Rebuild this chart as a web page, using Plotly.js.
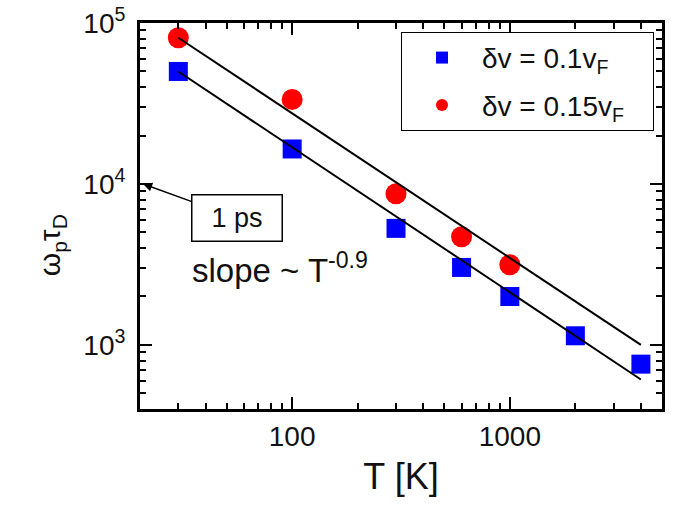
<!DOCTYPE html>
<html>
<head>
<meta charset="utf-8">
<script src="https://cdn.plot.ly/plotly-3.0.1.min.js"></script>
<style>
  html, body { margin: 0; padding: 0; background: #fff; }
  #plot { width: 697px; height: 514px; }
</style>
</head>
<body>
<div id="plot"></div>
<script>
// temperatures (K)
var tempBlue = [30, 100, 300, 600, 1000, 2000, 4000];
var tempRed = [30, 100, 300, 600, 1000];
// omega_p * tau_D
var wtBlue = [50000, 16500, 5300, 3030, 2000, 1140, 760];
var wtRed = [81000, 33500, 8700, 4700, 3150];
// the two T^-0.9 guide lines
var fitT = [30, 4000];
var fitUpper = [81000, 1000];
var fitLower = [50000, 610];

var nameBlue = 'δv = 0.1v<sub>F</sub>&nbsp;&nbsp;&nbsp;&nbsp;&nbsp;';
var nameRed = 'δv = 0.15v<sub>F</sub>&nbsp;&nbsp;&nbsp;';

var xMajor = [100, 1000];
var xMajorText = ['100', '1000'];
var xMinor = [30, 40, 50, 60, 70, 80, 90, 200, 300, 400, 500, 600, 700, 800, 900, 2000, 3000, 4000];
var yMajor = [1000, 10000, 100000];
var yMajorText = ['10<sup>3</sup>', '10<sup>4</sup>', '10<sup>5</sup>'];
var yMinor = [400, 500, 600, 700, 800, 900, 2000, 3000, 4000, 5000, 6000, 7000, 8000, 9000,
              20000, 30000, 40000, 50000, 60000, 70000, 80000, 90000];

var fontFam = 'Liberation Sans, Arial, sans-serif';

var traceBlue = {
    x: tempBlue, y: wtBlue, name: nameBlue, legendgroup: 'a',
    mode: 'markers', type: 'scatter',
    marker: { symbol: 'square', size: 19, color: '#0000ff' }
};
var traceRed = {
    x: tempRed, y: wtRed, name: nameRed, legendgroup: 'b',
    mode: 'markers', type: 'scatter',
    marker: { symbol: 'circle', size: 21, color: '#ff0000' }
};
var lineUpper = {
    x: fitT, y: fitUpper, mode: 'lines', type: 'scatter', showlegend: false,
    line: { color: '#000', width: 2 }, hoverinfo: 'skip'
};
var lineLower = {
    x: fitT, y: fitLower, mode: 'lines', type: 'scatter', showlegend: false,
    line: { color: '#000', width: 2 }, hoverinfo: 'skip'
};

var axisCommon = {
    type: 'log',
    showgrid: false, zeroline: false,
    showline: true, linecolor: '#000', linewidth: 3, mirror: 'ticks',
    ticks: 'inside', ticklen: 12, tickwidth: 2, tickcolor: '#000',
    tickfont: { family: fontFam, size: 28, color: '#111' },
    tickmode: 'array'
};

var layout = {
    width: 697, height: 514,
    margin: { l: 140, r: 35, t: 23, b: 105 },
    paper_bgcolor: '#fff', plot_bgcolor: '#fff',
    font: { family: fontFam, color: '#111' },
    showlegend: true,
    xaxis: Object.assign({}, axisCommon, {
        range: [Math.log10(20), Math.log10(5000)],
        tickvals: xMajor, ticktext: xMajorText,
        minor: { tickmode: 'array', tickvals: xMinor, ticks: 'inside', ticklen: 6, tickwidth: 2, tickcolor: '#000' },
        title: { text: 'T [K]', font: { family: fontFam, size: 36, color: '#111' }, standoff: 14 }
    }),
    yaxis: Object.assign({}, axisCommon, {
        range: [Math.log10(400), 5],
        tickvals: yMajor, ticktext: yMajorText,
        ticklabelstandoff: 6,
        minor: { tickmode: 'array', tickvals: yMinor, ticks: 'inside', ticklen: 6, tickwidth: 2, tickcolor: '#000' }
    }),
    legend: {
        x: 0.5, y: 0.977, xanchor: 'left', yanchor: 'top',
        bgcolor: '#fff', bordercolor: '#000', borderwidth: 1,
        font: { family: fontFam, size: 28, color: '#111' },
        traceorder: 'grouped', tracegroupgap: 8,
        itemsizing: 'constant', itemwidth: 70
    },
    annotations: [
        {   // y axis title, placed where the original has it
            xref: 'paper', yref: 'paper', x: -0.168, y: 0.425,
            xanchor: 'center', yanchor: 'middle',
            text: 'ω<sub>p</sub>τ<sub>D</sub>', textangle: -90, showarrow: false,
            font: { family: fontFam, size: 30, color: '#111' }
        },
        {
            xref: 'paper', yref: 'paper', x: 0.096, y: 0.365,
            xanchor: 'left', yanchor: 'middle',
            text: 'slope ~ T<sup>-0.9</sup>', showarrow: false,
            font: { family: fontFam, size: 33, color: '#111' }
        },
        {
            xref: 'paper', yref: 'y', x: 0.006, y: 4,
            text: '1 ps', showarrow: true, arrowhead: 2, arrowsize: 1.2, arrowwidth: 1.5,
            arrowcolor: '#000', ax: 94, ay: 34,
            bordercolor: '#000', borderwidth: 1.5, borderpad: 6, bgcolor: '#fff',
            width: 77, height: 33,
            font: { family: fontFam, size: 27, color: '#111' }
        }
    ]
};

Plotly.newPlot('plot', [traceBlue, traceRed, lineUpper, lineLower], layout, { staticPlot: true });
</script>
</body>
</html>
